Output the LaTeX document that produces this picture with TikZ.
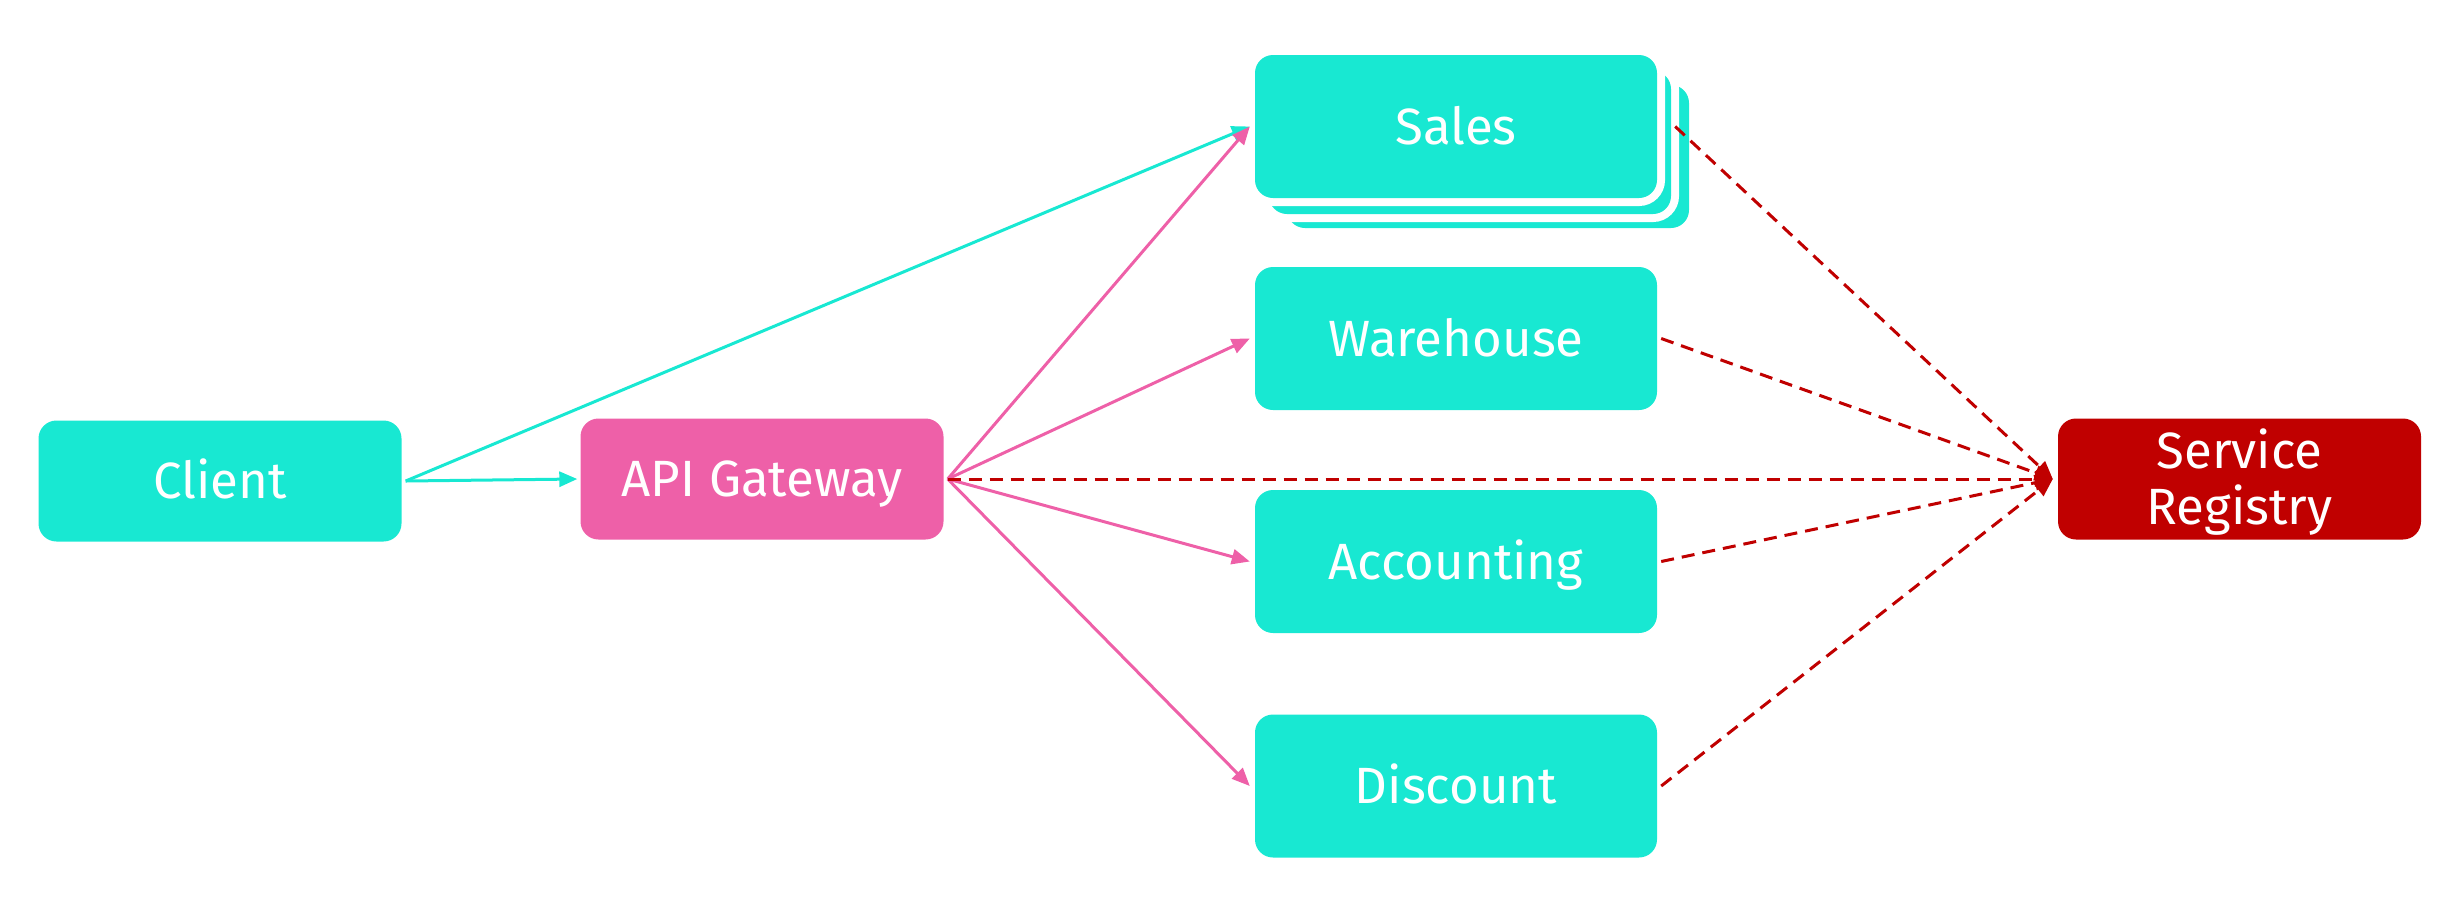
\documentclass[tikz,border=0pt]{standalone}
\usepackage{fontspec}
\setmainfont{Fira Sans}
\usetikzlibrary{arrows.meta,calc}
\definecolor{tealc}{HTML}{18E8D2}
\definecolor{pinkc}{HTML}{EE60A8}
\definecolor{redc}{HTML}{C00000}
\begin{document}
\begin{tikzpicture}[x=1pt,y=-1pt,
  boxbase/.style={rounded corners=18pt, inner sep=0pt, text=white,
    font=\fontsize{51}{56}\selectfont},
  svc/.style={boxbase, fill=tealc, minimum width=402pt, minimum height=143pt,
    text height=35pt, text depth=0pt},
  haloed/.style={preaction={draw=white, line width=16pt}},
  small/.style={boxbase, minimum width=363pt, minimum height=121pt},
  tealline/.style={draw=tealc, line width=3pt, -{Triangle[length=18pt,width=15pt]}},
  pinkline/.style={draw=pinkc, line width=3pt, -{Triangle[length=18pt,width=15pt]}},
  redline/.style={draw=redc, line width=3pt, dash pattern=on 13pt off 8pt,
    -{Triangle[length=18pt,width=15pt]}}
]
\useasboundingbox (0,0) rectangle (2446,906);
% nodes
\node[small, fill=tealc, text height=35pt, text depth=0pt] (client) at (220,481) {Client};
\node[small, fill=pinkc, text height=35pt, text depth=0pt] (api) at (762,479) {API Gateway};
\node[small, fill=redc, align=center, text height=91pt, text depth=0pt] (registry) at (2239.5,479) {Service\\Registry};
\node[svc, haloed] (sales3) at (1488,156.5) {};
\node[svc, haloed] (sales2) at (1470,142.5) {};
\node[svc, haloed] (sales) at (1456,126.5) {Sales};
\node[svc] (warehouse) at (1456,338.5) {Warehouse};
\node[svc] (accounting) at (1456,561.5) {Accounting};
\node[svc] (discount) at (1456,786) {Discount};
% coordinates
\coordinate (cs) at ($(client.east)+(4,0)$);
\coordinate (as) at ($(api.east)+(4,0)$);
\coordinate (rt) at ($(registry.west)+(-5,0)$);
% client connectors
\draw[tealline] (cs) -- ($(api.west)+(-3,0)$);
\draw[tealline] (cs) -- ($(sales.west)+(-5,0)$);
% gateway connectors
\draw[pinkline] (as) -- ($(sales.west)+(-5,0)$);
\draw[pinkline] (as) -- ($(warehouse.west)+(-5,0)$);
\draw[pinkline] (as) -- ($(accounting.west)+(-5,0)$);
\draw[pinkline] (as) -- ($(discount.west)+(-5,0)$);
% registry connectors
\draw[redline] ($(sales2.east |- sales.east)+(4,0)$) -- (rt);
\draw[redline] ($(warehouse.east)+(4,0)$) -- (rt);
\draw[redline] (as) -- (rt);
\draw[redline] ($(accounting.east)+(4,0)$) -- (rt);
\draw[redline] ($(discount.east)+(4,0)$) -- (rt);
\end{tikzpicture}
\end{document}
